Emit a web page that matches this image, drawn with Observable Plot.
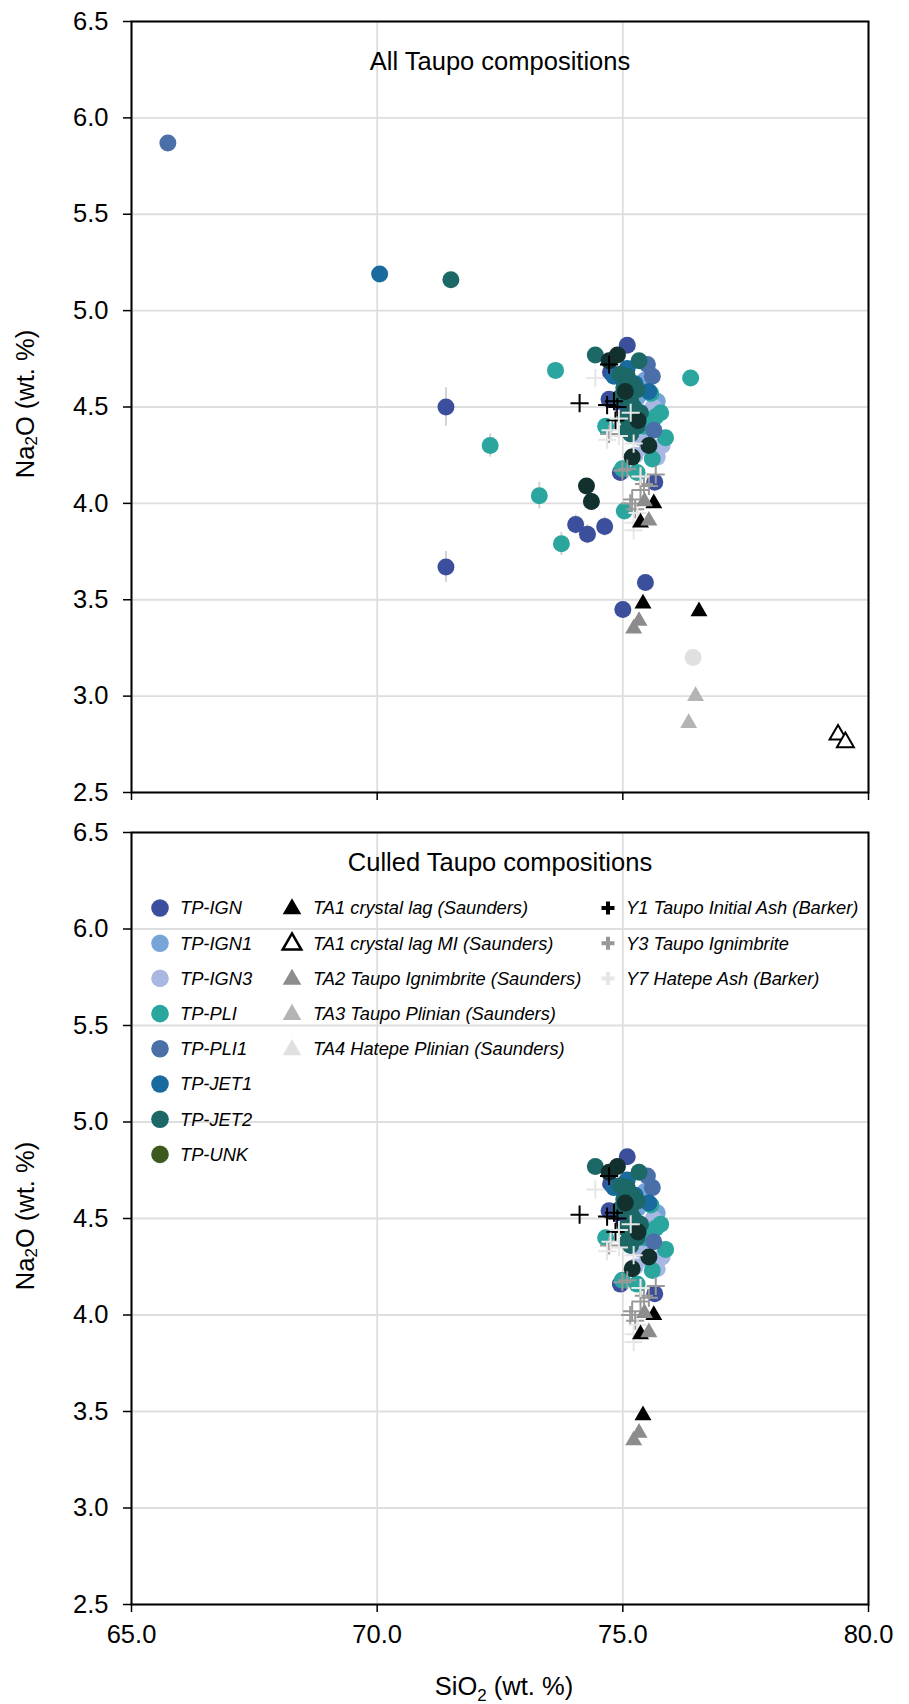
<!DOCTYPE html>
<html><head><meta charset="utf-8">
<script src="https://cdn.jsdelivr.net/npm/d3@7"></script>
<script src="https://cdn.jsdelivr.net/npm/@observablehq/plot@0.6"></script>
<style>
body{margin:0;background:#fff;font-family:"Liberation Sans",Arial,sans-serif;}
#wrap{width:909px;}
svg{display:block;}
</style></head><body><div id="wrap"></div>
<script>
// ---- axis ticks ----
const xTicks = [65, 70, 75, 80];
const yTicks = [2.5, 3.0, 3.5, 4.0, 4.5, 5.0, 5.5, 6.0, 6.5];
const panelTitles = ["All Taupo compositions", "Culled Taupo compositions"];

// ---- data: [SiO2, Na2O, 1σ error on Na2O, kept in culled set (1/0)] ----
const tpIGN = [[71.40,4.50,0.10,0],[71.40,3.67,0.08,0],[74.04,3.89,0.05,0],[74.28,3.84,0.05,0],[74.63,3.88,0.05,0],
  [75.46,3.59,0.04,0],[75.00,3.45,0.04,0],[75.09,4.82,0.04,1],[74.72,4.54,0.04,1],[74.75,4.68,0.04,1],
  [74.95,4.16,0.04,1],[75.65,4.11,0.04,1],[75.00,4.50,0.04,1]];
const tpIGN1 = [[75.45,4.64,0.04,1],[75.70,4.53,0.04,1],[75.43,4.34,0.04,1],[75.30,4.55,0.04,1],[75.55,4.45,0.04,1]];
const tpIGN3 = [[75.80,4.30,0.04,1],[75.50,4.29,0.04,1],[75.36,4.34,0.04,1],[75.70,4.24,0.04,1],[75.62,4.50,0.04,1],[75.25,4.25,0.04,1]];
const tpPLI = [[72.30,4.30,0.06,0],[73.30,4.04,0.07,0],[73.63,4.69,0.04,0],[73.75,3.79,0.06,0],[75.03,3.96,0.04,0],[76.38,4.65,0.04,0],
  [75.77,4.47,0.04,1],[75.67,4.45,0.04,1],[75.87,4.34,0.04,1],[74.65,4.40,0.04,1],[75.60,4.23,0.04,1],[74.99,4.18,0.04,1],
  [75.29,4.16,0.04,1],[75.57,4.57,0.04,1],[75.43,4.40,0.04,1],[75.22,4.45,0.04,1],[75.15,4.40,0.04,1]];
const tpPLI1 = [[65.74,5.87,0.03,0],[75.60,4.66,0.04,1],[75.50,4.72,0.04,1],[75.63,4.38,0.04,1]];
const tpJET1 = [[70.05,5.19,0.04,0],[75.09,4.70,0.04,1],[75.53,4.58,0.04,1],[74.82,4.66,0.04,1],[75.25,4.62,0.04,1]];
const tpJET2 = [[71.50,5.16,0.04,0],[74.44,4.77,0.04,1],[75.33,4.74,0.04,1],[74.95,4.67,0.04,1],[75.09,4.66,0.04,1],
  [75.19,4.62,0.04,1],[75.02,4.60,0.04,1],[74.95,4.55,0.04,1],[75.16,4.53,0.04,1],[75.29,4.59,0.04,1],[75.22,4.50,0.04,1],
  [75.36,4.47,0.04,1],[75.29,4.40,0.04,1],[75.16,4.36,0.04,1],[75.09,4.38,0.04,1],[75.05,4.45,0.04,1],[75.12,4.62,0.04,1]];
const tpUNK = [];
const tpDark = [[74.26,4.09,0.04,0],[74.36,4.01,0.04,0],[74.89,4.77,0.04,1],[74.72,4.74,0.04,1],[75.05,4.58,0.04,1],
  [75.31,4.43,0.04,1],[75.53,4.30,0.04,1],[75.19,4.24,0.04,1]];
const greyCircle = [[76.43,3.20,0,0]];
const ta1 = [[75.63,4.00,0,1],[75.36,3.90,0,1],[75.41,3.48,0,1],[76.55,3.44,0,0]];
const ta1MI = [[79.38,2.80,0,0],[79.53,2.76,0,0]];
const ta2 = [[75.44,4.01,0,1],[75.53,3.91,0,1],[75.33,3.39,0,1],[75.22,3.35,0,1]];
const ta3 = [[76.48,3.00,0,0],[76.34,2.86,0,0]];
const ta4 = [];
const y1 = [[74.12,4.52,0,1],[74.68,4.51,0,1],[74.89,4.50,0,1],[74.82,4.53,0,1],[74.72,4.72,0,1],[74.85,4.43,0,1]];
const y3 = [[74.99,4.17,0,1],[75.09,4.18,0,1],[75.36,4.14,0,1],[75.67,4.15,0,1],[75.43,4.10,0,1],[75.53,4.09,0,1],
  [75.19,4.02,0,1],[75.36,4.07,0,1],[74.72,4.36,0,1],[75.25,3.97,0,1],[75.15,4.00,0,1]];
const y7 = [[74.44,4.65,0,1],[74.75,4.38,0,1],[74.68,4.33,0,1],[74.92,4.35,0,1],[75.22,4.31,0,1],[75.16,4.47,0,1],
  [74.92,4.44,0,1],[75.36,4.14,0,1],[75.22,3.90,0,1],[75.22,3.86,0,1],[75.30,3.95,0,1]];

// ---- styling ----
const FONT = "Liberation Sans, Arial, sans-serif";
const FS = 25.5;
const circleSeries = [
  {name:"TP-IGN", pts:tpIGN, color:"#3b4f9c"},
  {name:"TP-IGN1", pts:tpIGN1, color:"#78a5d8"},
  {name:"TP-IGN3", pts:tpIGN3, color:"#a8b8e2"},
  {name:"TP-PLI", pts:tpPLI, color:"#2aa69e"},
  {name:"TP-PLI1", pts:tpPLI1, color:"#4b6fa8"},
  {name:"TP-JET1", pts:tpJET1, color:"#1a6b9d"},
  {name:"TP-JET2", pts:tpJET2, color:"#1b6866"},
  {name:"TP-UNK", pts:tpUNK, color:"#3d5a1e"}
];
const extraCircles = [
  {pts:tpDark, color:"#12302e"},
  {pts:greyCircle, color:"#e0e0e0"}
];
const triSeries = [
  {name:"TA1 crystal lag (Saunders)", pts:ta1, fill:"#000", stroke:"none"},
  {name:"TA1 crystal lag MI (Saunders)", pts:ta1MI, fill:"#fff", stroke:"#000"},
  {name:"TA2 Taupo Ignimbrite (Saunders)", pts:ta2, fill:"#8c8c8c", stroke:"none"},
  {name:"TA3 Taupo Plinian (Saunders)", pts:ta3, fill:"#b4b4b4", stroke:"none"},
  {name:"TA4 Hatepe Plinian (Saunders)", pts:ta4, fill:"#e0e0e0", stroke:"none"}
];
const crossSeries = [
  {name:"Y1 Taupo Initial Ash (Barker)", pts:y1, color:"#000"},
  {name:"Y3 Taupo Ignimbrite", pts:y3, color:"#999"},
  {name:"Y7 Hatepe Ash (Barker)", pts:y7, color:"#e6e6e6"}
];

const toRows = (pts, culled) => pts.filter(p => !culled || p[3] === 1).map(p => ({x:p[0], y:p[1], e:p[2]}));

function makePanel(culled, opts) {
  const marks = [
    Plot.gridX(xTicks, {stroke:"#dedede", strokeOpacity:1, strokeWidth:1.8}),
    Plot.gridY(yTicks, {stroke:"#dedede", strokeOpacity:1, strokeWidth:1.8})
  ];
  const allCirc = circleSeries.concat(extraCircles);
  allCirc.forEach(s => {
    const rows = toRows(s.pts, culled).filter(d => d.e > 0);
    marks.push(Plot.ruleX(rows, {x:"x", y1:d => d.y - d.e, y2:d => d.y + d.e, stroke:"#d3d3d3", strokeWidth:2}));
  });
  allCirc.forEach(s => {
    marks.push(Plot.dot(toRows(s.pts, culled), {x:"x", y:"y", r:8.5, fill:s.color, stroke:null}));
  });
  crossSeries.forEach(s => {
    marks.push(Plot.dot(toRows(s.pts, culled), {x:"x", y:"y", symbol:"plus", r:5.9, stroke:s.color, strokeWidth:2, fill:"none"}));
  });
  triSeries.forEach(s => {
    marks.push(Plot.dot(toRows(s.pts, culled), {x:"x", y:"y", symbol:"triangle", r:6.3, fill:s.fill,
      stroke:s.stroke === "none" ? null : s.stroke, strokeWidth:2}));
  });
  marks.push(Plot.frame({stroke:"#000", strokeWidth:2}));
  marks.push(Plot.axisY(yTicks, {anchor:"left", tickFormat:d3.format(".1f"), tickSize:8, tickPadding:15,
    fontSize:FS, label:null, stroke:"#000", strokeWidth:1.5}));
  marks.push(Plot.axisX(xTicks, {anchor:"bottom", tickFormat: opts.xLabels ? d3.format(".1f") : () => "",
    tickSize:8, tickPadding:12, fontSize:FS, label:null, stroke:"#000", strokeWidth:1.5}));
  marks.push(Plot.text([opts.title], {text:d => d, frameAnchor:"top", lineAnchor:"middle", dy:opts.titleDy, fontSize:FS, fill:"#000"}));
  return Plot.plot({
    width:909, height:opts.height,
    marginLeft:131, marginRight:41, marginTop:opts.marginTop, marginBottom:opts.marginBottom,
    style:{fontFamily:FONT, color:"#000", background:"#fff"},
    x:{domain:[65,80]}, y:{domain:[2.5,6.5]},
    marks
  });
}

const wrap = document.getElementById("wrap");
const topSvg = makePanel(false, {height:812, marginTop:21, marginBottom:20, title:panelTitles[0], titleDy:40, xLabels:false});
const botSvg = makePanel(true, {height:892, marginTop:20, marginBottom:100, title:panelTitles[1], titleDy:30, xLabels:true});
wrap.appendChild(topSvg);
wrap.appendChild(botSvg);

function yTitle(svg, cy) {
  const t = d3.select(svg).append("text")
    .attr("transform", `translate(27,${cy}) rotate(-90)`)
    .attr("text-anchor", "middle").attr("dominant-baseline", "middle")
    .attr("font-size", FS).attr("font-family", FONT).attr("fill", "#000");
  t.append("tspan").text("Na");
  t.append("tspan").text("2").attr("font-size", 17).attr("dy", 6);
  t.append("tspan").text("O (wt. %)").attr("dy", -6);
}
yTitle(topSvg, 404);
yTitle(botSvg, 404);

{
  const t = d3.select(botSvg).append("text")
    .attr("x", 504).attr("y", 883).attr("text-anchor", "middle")
    .attr("font-size", FS).attr("font-family", FONT).attr("fill", "#000");
  t.append("tspan").text("SiO");
  t.append("tspan").text("2").attr("font-size", 17).attr("dy", 6);
  t.append("tspan").text(" (wt. %)").attr("dy", -6);
}

{
  const g = d3.select(botSvg).append("g").attr("font-family", FONT).attr("font-size", 18.3)
    .attr("font-style", "italic").attr("text-anchor", "start").attr("fill", "#000");
  const rowY = i => 96 + i * 35.2;
  circleSeries.forEach((s, i) => {
    g.append("circle").attr("cx", 160).attr("cy", rowY(i)).attr("r", 8.8).attr("fill", s.color);
    g.append("text").attr("x", 180).attr("y", rowY(i)).attr("dy", "0.35em").text(s.name);
  });
  const tri = d3.symbol(d3.symbolTriangle, 150);
  triSeries.forEach((s, i) => {
    g.append("path").attr("d", tri()).attr("transform", `translate(292,${rowY(i) + 1})`)
      .attr("fill", s.fill).attr("stroke", s.stroke === "none" ? null : s.stroke).attr("stroke-width", 2.5);
    g.append("text").attr("x", 313).attr("y", rowY(i)).attr("dy", "0.35em").text(s.name);
  });
  crossSeries.forEach((s, i) => {
    g.append("path").attr("d", "M-6.5,0H6.5M0,-6.5V6.5").attr("transform", `translate(608,${rowY(i)})`)
      .attr("stroke", s.color).attr("stroke-width", 4).attr("fill", "none");
    g.append("text").attr("x", 626).attr("y", rowY(i)).attr("dy", "0.35em").text(s.name);
  });
}
</script></body></html>
